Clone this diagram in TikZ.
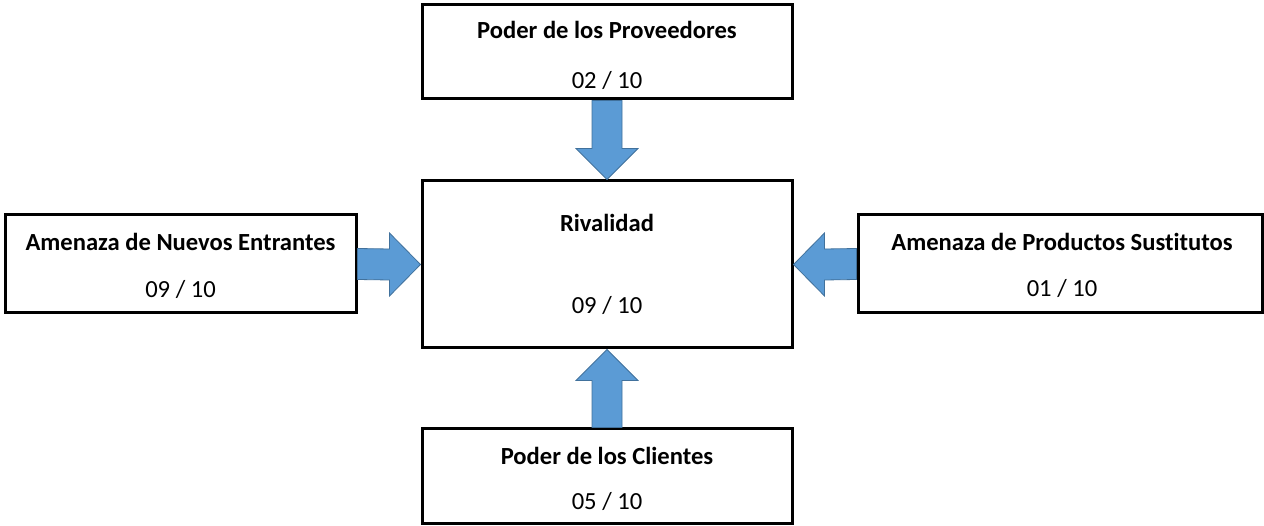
\documentclass[tikz,border=0pt]{standalone}
\usepackage{fontspec}
\setmainfont{Carlito}[Ligatures=NoCommon]
\usetikzlibrary{calc}
\definecolor{arrowfill}{HTML}{5B9BD5}
\definecolor{arrowline}{HTML}{41719C}
\tikzset{
  box/.style={draw=black, line width=3pt, fill=white, rectangle, inner sep=0pt},
  ttl/.style={font=\fontsize{24.6}{28}\selectfont\bfseries, inner sep=0pt},
  num/.style={font=\fontsize{24.6}{28}\selectfont, inner sep=0pt},
  barrow/.style={fill=arrowfill, draw=arrowline, line width=0.8pt, line join=miter},
}
\begin{document}
\begin{tikzpicture}[x=1pt,y=1pt]
\useasboundingbox (0,0) rectangle (1264,-526);
\node[box, minimum width=370pt, minimum height=94pt] (prov) at (607,-52) {};
\node[box, minimum width=370pt, minimum height=167pt] (riv) at (607,-264.5) {};
\node[box, minimum width=351pt, minimum height=98pt] (nue) at (180.5,-264) {};
\node[box, minimum width=404pt, minimum height=98pt] (sus) at (1060,-264) {};
\node[box, minimum width=370pt, minimum height=94pt] (cli) at (607,-476) {};

\node[ttl] (provt) at (607,-30) {Poder de los Proveedores};
\node[num] (provn) at (607,-80) {02 / 10};
\node[ttl] (rivt) at (607,-223) {Rivalidad};
\node[num] (rivn) at (607,-305) {09 / 10};
\node[ttl] (nuet) at (180.5,-242) {Amenaza de Nuevos Entrantes};
\node[num] (nuen) at (180.5,-289) {09 / 10};
\node[ttl] (sust) at (1062,-242) {Amenaza de Productos Sustitutos};
\node[num] (susn) at (1062,-288) {01 / 10};
\node[ttl] (clit) at (607,-456) {Poder de los Clientes};
\node[num] (clin) at (607,-501) {05 / 10};

% top arrow
\draw[barrow] ($(prov.south)+(-15,0)$) -- ($(riv.north)+(-15,31)$) -- ($(riv.north)+(-31,31)$)
  -- (riv.north) -- ($(riv.north)+(31,31)$) -- ($(riv.north)+(15,31)$) -- ($(prov.south)+(15,0)$) -- cycle;
% bottom arrow
\draw[barrow] ($(cli.north)+(-15,0)$) -- ($(riv.south)+(-15,-31)$) -- ($(riv.south)+(-31,-31)$)
  -- (riv.south) -- ($(riv.south)+(31,-31)$) -- ($(riv.south)+(15,-31)$) -- ($(cli.north)+(15,0)$) -- cycle;
% left arrow
\draw[barrow] ($(nue.east)+(0,15.5)$) -- ($(riv.west)+(-31,15.5)$) -- ($(riv.west)+(-31,31.5)$)
  -- (riv.west) -- ($(riv.west)+(-31,-31.5)$) -- ($(riv.west)+(-31,-15.5)$) -- ($(nue.east)+(0,-15.5)$) -- cycle;
% right arrow
\draw[barrow] ($(sus.west)+(0,15.5)$) -- ($(riv.east)+(31,15.5)$) -- ($(riv.east)+(31,31.5)$)
  -- (riv.east) -- ($(riv.east)+(31,-31.5)$) -- ($(riv.east)+(31,-15.5)$) -- ($(sus.west)+(0,-15.5)$) -- cycle;
\end{tikzpicture}
\end{document}
